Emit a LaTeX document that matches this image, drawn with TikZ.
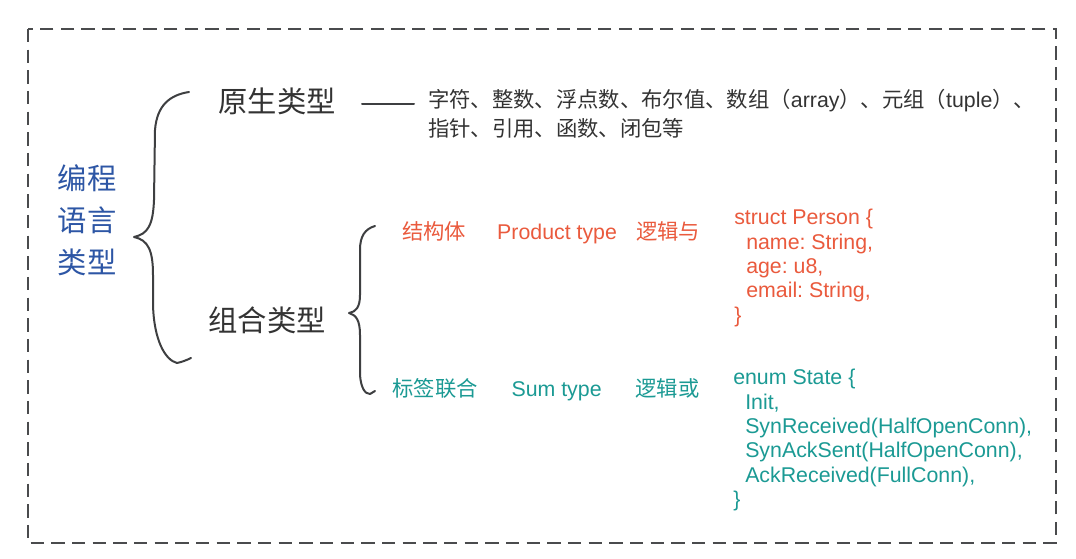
\documentclass[tikz,border=0pt]{standalone}
\usepackage{fontspec}
\setmainfont{Liberation Sans}
\newfontfamily\cjk{Noto Sans CJK SC}
\usepackage{xcolor}
\usepackage{tikz}
\usetikzlibrary{positioning}
\frenchspacing

\definecolor{framegray}{HTML}{4A4B4D}
\definecolor{bracegray}{HTML}{3E3F41}
\definecolor{textgray}{HTML}{333333}
\definecolor{langblue}{HTML}{2D56A5}
\definecolor{prodred}{HTML}{EA5A3D}
\definecolor{sumteal}{HTML}{1B9A94}

\begin{document}
\begin{tikzpicture}[
  x=0.75pt, y=-0.75pt,
  frame/.style={draw=framegray, line width=2pt, dash pattern=on 10pt off 5.5pt},
  brace/.style={draw=bracegray, line width=1.5pt, line cap=round, line join=round},
  langtitle/.style={inner sep=0pt, text=langblue, align=center,
    font=\cjk\fontsize{22}{31.5}\selectfont},
  heading/.style={inner sep=0pt, text=textgray, font=\cjk\fontsize{22}{26}\selectfont},
  plain/.style={inner sep=0pt, font=\fontsize{16}{21.75}\selectfont},
  prod/.style={plain, text=prodred},
  sum/.style={plain, text=sumteal},
  code/.style={inner sep=0pt, anchor=north west, align=left,
    font=\fontsize{16}{18.3}\selectfont}
  ]

\fill[white] (0,0) rectangle (1076,559);

% outer frame
\draw[frame] (28,29) rectangle (1056,543);

% root
\node[langtitle] (lang) at (87,220) {编程\\语言\\类型};

% big brace
\draw[brace] (189,92) .. controls (170,95) and (157,105) .. (155,130)
  -- (154,200) .. controls (153,225) and (148,234) .. (134,237)
  .. controls (148,240) and (153,250) .. (153,275)
  -- (153,305) .. controls (154,340) and (165,360) .. (177,363)
  .. controls (182,362) and (187,360) .. (191,358);

% primitive types
\node[heading] (prim) at (277,101) {原生类型};
\node[plain, text=textgray, anchor=west, align=left] (primlist) at (428,113.5)
  {{\cjk 字符、整数、浮点数、布尔值、数组（}array{\cjk ）、元组（}tuple{\cjk ）、}\\
   {\cjk 指针、引用、函数、闭包等}};
\coordinate (dashA) at (362,104);
\coordinate (dashB) at (414,104);
\draw[brace] (dashA) -- (dashB);

% composite types
\node[heading] (comp) at (267,320) {组合类型};

% small brace
\draw[brace] (375,226) .. controls (365,229) and (360,236) .. (360,250)
  -- (360,295) .. controls (360,307) and (356,312) .. (349,313)
  .. controls (356,315) and (360,320) .. (360,335)
  -- (360,375) .. controls (361,388) and (365,394) .. (370,394)
  -- (375,391);

% product type
\node[prod, font=\cjk\fontsize{16}{20}\selectfont] (structure) at (434,231) {结构体};
\node[prod, base right = 23pt of structure] (product) {Product type};
\node[prod, font=\cjk\fontsize{16}{20}\selectfont, base right = 14pt of product] (logand) {逻辑与};
\node[code, text=prodred] (structcode) at (734,209)
  {struct Person \{\\
   \hspace*{9pt}name: String,\\
   \hspace*{9pt}age: u8,\\
   \hspace*{9pt}email: String,\\
   \}};

% sum type
\node[sum, font=\cjk\fontsize{16}{20}\selectfont] (tagged) at (435,388) {标签联合};
\node[sum, base right = 25pt of tagged] (sumtype) {Sum type};
\node[sum, font=\cjk\fontsize{16}{20}\selectfont, base right = 25pt of sumtype] (logor) {逻辑或};
\node[code, text=sumteal] (enumcode) at (733,369)
  {enum State \{\\
   \hspace*{9pt}Init,\\
   \hspace*{9pt}SynReceived(HalfOpenConn),\\
   \hspace*{9pt}SynAckSent(HalfOpenConn),\\
   \hspace*{9pt}AckReceived(FullConn),\\
   \}};

\end{tikzpicture}
\end{document}
